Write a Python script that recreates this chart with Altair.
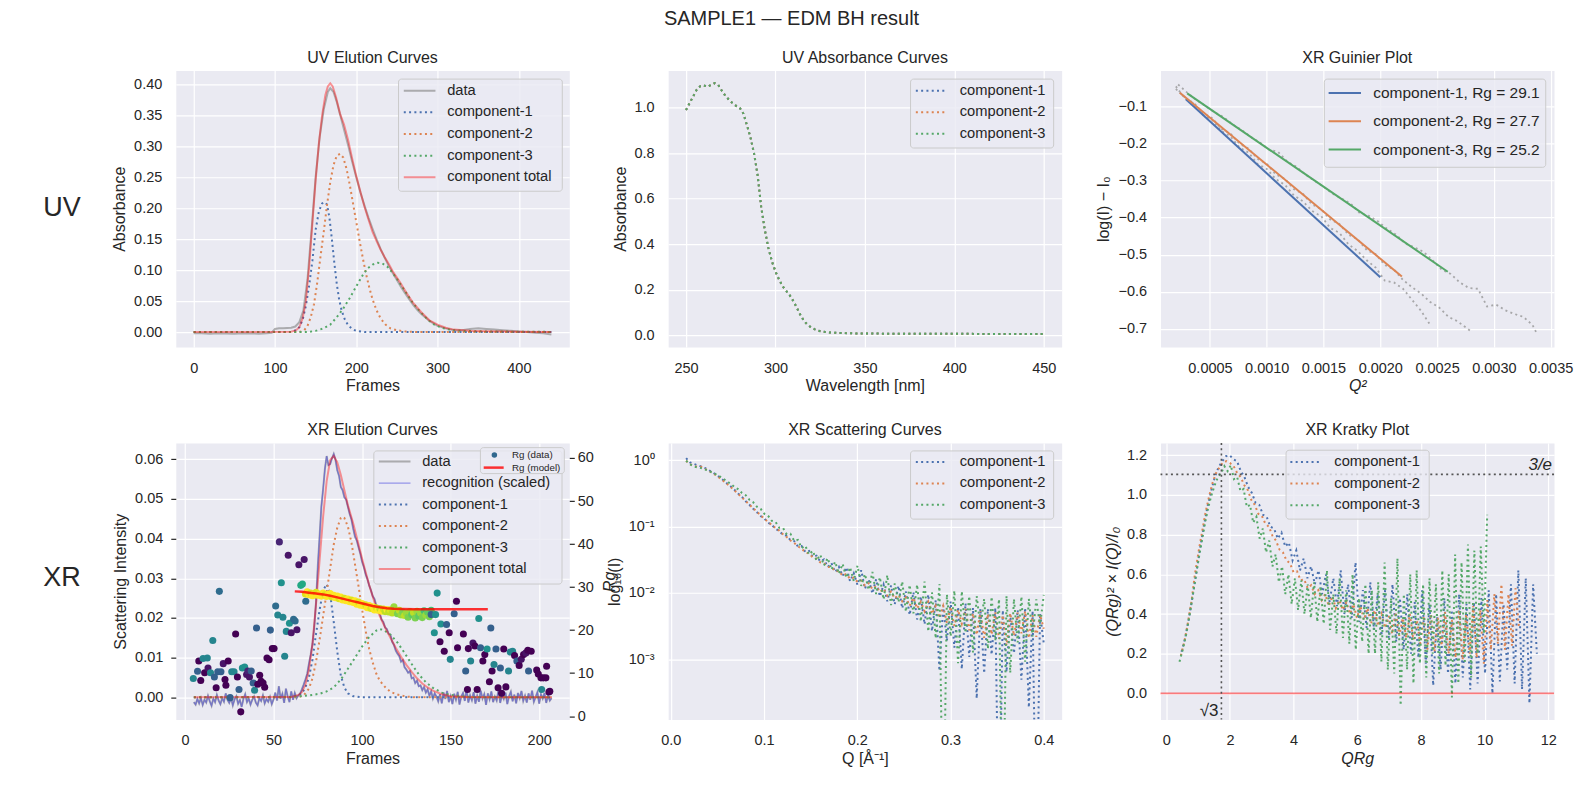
import altair as alt
import numpy as np
import pandas as pd

FONT = "Liberation Sans"
INK = "#262626"
BG = "#EAEAF2"
BLUE, ORANGE, GREEN = "#4C72B0", "#DD8452", "#55A868"
W, H = 394, 277
DOT = [2, 3.3]

# ---------------- UV elution curves (absorbance vs frame) ----------------
uv_data_frames = [0, 10, 20, 30, 40, 50, 60, 70, 80, 90,
                  96, 100, 105, 110, 115, 120, 125, 130, 135, 140, 145, 150, 155, 160, 165,
                  168, 172, 176, 180,
                  185, 190, 195, 200, 205, 210, 215, 220, 225, 230, 235, 240, 245, 250, 255, 260, 265, 270, 275, 280,
                  290, 300, 310, 320, 330, 340, 350, 360, 370, 380, 390, 400, 410, 420, 430, 440]
uv_data = [-0.002, -0.002, -0.0025, -0.002, -0.0022, -0.0025, -0.002, -0.0021, -0.0025, -0.002,
           -0.001, 0.005, 0.006, 0.006, 0.0065, 0.007, 0.009, 0.016, 0.035, 0.085, 0.165, 0.25, 0.315, 0.36, 0.388,
           0.394, 0.388, 0.372, 0.352,
           0.327, 0.302, 0.275, 0.25, 0.226, 0.205, 0.185, 0.167, 0.15, 0.134, 0.12, 0.107, 0.095, 0.084, 0.073,
           0.063, 0.053, 0.044, 0.036, 0.029,
           0.018, 0.01, 0.006, 0.003, 0.003, 0.005, 0.006, 0.005, 0.004, 0.003, 0.002, 0.001, 0.0, -0.001, -0.002, -0.004]

uv_c1_frames = [0, 120, 126, 130, 134, 138, 142, 146, 150, 154, 158, 161, 164, 167, 170, 173, 176, 179, 182, 186,
                190, 195, 200, 210, 440]
uv_c1 = [0, 0, 0.003, 0.008, 0.02, 0.042, 0.075, 0.115, 0.165, 0.195, 0.208, 0.21, 0.206, 0.185, 0.15, 0.112,
         0.078, 0.052, 0.035, 0.02, 0.011, 0.005, 0.002, 0.0, 0.0]

uv_c2_frames = [0, 130, 136, 140, 144, 148, 152, 156, 160, 164, 168, 172, 176, 180, 184, 188, 192, 196, 200, 204,
                208, 212, 216, 220, 225, 230, 236, 242, 250, 260, 275, 300, 440]
uv_c2 = [0, 0, 0.003, 0.01, 0.024, 0.045, 0.08, 0.122, 0.162, 0.205, 0.242, 0.27, 0.285, 0.288, 0.282, 0.264,
         0.238, 0.208, 0.178, 0.148, 0.12, 0.094, 0.072, 0.053, 0.035, 0.022, 0.012, 0.006, 0.003, 0.001, 0, 0, 0]

uv_c3_frames = [0, 140, 150, 160, 168, 176, 184, 192, 200, 208, 214, 220, 226, 232, 238, 244, 250, 256, 262, 268,
                274, 280, 288, 296, 305, 315, 330, 350, 380, 440]
uv_c3 = [0, 0, 0.002, 0.006, 0.012, 0.024, 0.038, 0.055, 0.074, 0.092, 0.103, 0.109, 0.112, 0.111, 0.106, 0.097,
         0.086, 0.074, 0.062, 0.05, 0.04, 0.031, 0.02, 0.012, 0.007, 0.004, 0.002, 0.0012, 0.0008, 0.0003]

uv_total_frames = [0, 120, 126, 130, 134, 138, 142, 146, 150, 154, 158, 162, 165, 168, 171, 175, 180, 185, 190, 195,
                   200, 205, 210, 215, 220, 225, 230, 235, 240, 245, 250, 255, 260, 270, 280, 290, 300, 310, 320,
                   340, 360, 400, 440]
uv_total = [0, 0.0005, 0.003, 0.008, 0.022, 0.05, 0.105, 0.175, 0.245, 0.305, 0.35, 0.383, 0.397, 0.402, 0.397,
            0.38, 0.353, 0.335, 0.31, 0.28, 0.252, 0.227, 0.203, 0.182, 0.162, 0.147, 0.133, 0.121, 0.11, 0.098,
            0.088, 0.078, 0.067, 0.047, 0.032, 0.019, 0.012, 0.007, 0.004, 0.002, 0.0012, 0.0007, 0.0003]

# ---------------- UV absorbance spectrum ----------------
uv_wavelength = [250, 252, 254, 256, 258, 260, 262, 264, 266, 268,
                 270, 272, 274, 276, 278, 280, 282, 284, 286, 288,
                 290, 292, 294, 296, 298, 300, 302, 304, 306, 308,
                 310, 312, 314, 316, 318, 320, 322, 324, 326, 328,
                 330, 335, 340, 345, 350,
                 360, 370, 380, 390, 400, 410, 420, 430, 440, 450]
uv_absorbance = [0.99, 1.02, 1.05, 1.08, 1.095, 1.098, 1.092, 1.1, 1.108, 1.1,
                 1.075, 1.052, 1.035, 1.02, 1.008, 1.0, 0.975, 0.925, 0.87, 0.8,
                 0.705, 0.565, 0.465, 0.385, 0.325, 0.28, 0.245, 0.215, 0.195, 0.175,
                 0.15, 0.12, 0.088, 0.062, 0.046, 0.034, 0.026, 0.02, 0.016, 0.014,
                 0.012, 0.01, 0.009, 0.008, 0.008,
                 0.007, 0.007, 0.006, 0.007, 0.006, 0.006, 0.005, 0.006, 0.005, 0.006]

# ---------------- Guinier plot ----------------
rg_fit = [29.1, 27.7, 25.2]
guinier_fit_q2 = [[0.000288, 0.0020], [0.000235, 0.00219], [0.0003, 0.002594]]
guinier_fit_y = [[-0.080, -0.561], [-0.062, -0.559], [-0.064, -0.546]]

guinier_q2_a = [0.00020, 0.00028, 0.00036, 0.00044, 0.00052, 0.00060, 0.00068, 0.00076, 0.00084, 0.00092,
                0.00100, 0.00108, 0.00116, 0.00124, 0.00132, 0.00140, 0.00148, 0.00156, 0.00164, 0.00172,
                0.00180, 0.00188, 0.00196, 0.00204, 0.00212, 0.00220, 0.00228, 0.00236, 0.00244]
guinier_y_a = [-0.052, -0.075, -0.093, -0.122, -0.136, -0.165, -0.180, -0.210, -0.224, -0.255,
               -0.268, -0.296, -0.311, -0.340, -0.356, -0.382, -0.396, -0.428, -0.441, -0.472,
               -0.490, -0.515, -0.535, -0.570, -0.575, -0.592, -0.622, -0.652, -0.690]
guinier_q2_b = [0.00020, 0.00028, 0.00036, 0.00044, 0.00052, 0.00060, 0.00068, 0.00076, 0.00084, 0.00092,
                0.00100, 0.00108, 0.00116, 0.00124, 0.00132, 0.00140, 0.00148, 0.00156, 0.00164, 0.00172,
                0.00180, 0.00188, 0.00196, 0.00204, 0.00212, 0.00220, 0.00228, 0.00236, 0.00244, 0.00252,
                0.00260, 0.00268, 0.00279]
guinier_y_b = [-0.045, -0.078, -0.090, -0.118, -0.131, -0.160, -0.172, -0.200, -0.213, -0.241,
               -0.254, -0.283, -0.295, -0.323, -0.336, -0.364, -0.377, -0.405, -0.417, -0.446,
               -0.458, -0.487, -0.499, -0.528, -0.540, -0.568, -0.588, -0.605, -0.628, -0.643,
               -0.668, -0.680, -0.705]
guinier_q2_c = [0.00022, 0.00030, 0.00038, 0.00046, 0.00054, 0.00062, 0.00070, 0.00078, 0.00086, 0.00094,
                0.00102, 0.00110, 0.00118, 0.00126, 0.00134, 0.00142, 0.00150, 0.00158, 0.00166, 0.00174,
                0.00182, 0.00190, 0.00198, 0.00206, 0.00214, 0.00222, 0.00230, 0.00238, 0.00246, 0.00254,
                0.00262, 0.00270, 0.00278, 0.00286, 0.00294, 0.00302, 0.00310, 0.00318, 0.00326, 0.00334,
                0.00338]
guinier_y_c = [-0.040, -0.062, -0.082, -0.098, -0.115, -0.128, -0.148, -0.163, -0.182, -0.197,
               -0.216, -0.222, -0.248, -0.262, -0.283, -0.300, -0.316, -0.335, -0.348, -0.362,
               -0.388, -0.395, -0.410, -0.430, -0.446, -0.470, -0.480, -0.492, -0.515, -0.540,
               -0.552, -0.575, -0.590, -0.592, -0.640, -0.635, -0.650, -0.660, -0.668, -0.690,
               -0.714]

# ---------------- XR elution curves ----------------
xr_data = [-0.0012, -0.0018, -0.0004, -0.0015, -0.0002, -0.0019, -0.0006, -0.0013, 0.0004, -0.0010,
           -0.0021, -0.0003, -0.0012, 0.0006, -0.0008, -0.0017, -0.0002, -0.0011, 0.0010, -0.0006,
           -0.0014, -0.0001, -0.0020, -0.0005, 0.0003, -0.0016, -0.0007, -0.0024, -0.0004, 0.0008,
           -0.0012, -0.0003, -0.0018, -0.0006, 0.0002, -0.0013, -0.0020, -0.0002, -0.0009, 0.0005,
           -0.0015, -0.0004, -0.0011, 0.0001, -0.0017, -0.0005, 0.0012, -0.0008, 0.0028, -0.0003,
           0.0009, -0.0014, 0.0022, 0.0002, -0.0012, 0.0015, -0.0006, 0.0011, -0.0002, 0.0005,
           0.0009, 0.0020, 0.0032, 0.0045, 0.0059, 0.0085, 0.0108, 0.0135, 0.0178, 0.0240,
           0.0330, 0.0405, 0.0480, 0.0525, 0.0575, 0.0608, 0.0585, 0.0588, 0.0602, 0.0613,
           0.0598, 0.0572, 0.0558, 0.0530, 0.0522, 0.0504, 0.0498, 0.0480, 0.0462, 0.0448,
           0.0425, 0.0405, 0.0395, 0.0378, 0.0362, 0.0342, 0.0328, 0.0310, 0.0298, 0.0282,
           0.0270, 0.0255, 0.0248, 0.0232, 0.0220, 0.0212, 0.0196, 0.0190, 0.0176, 0.0172,
           0.0160, 0.0158, 0.0140, 0.0132, 0.0118, 0.0110, 0.0104, 0.0090, 0.0094, 0.0076,
           0.0070, 0.0062, 0.0066, 0.0048, 0.0050, 0.0036, 0.0042, 0.0028, 0.0030, 0.0018,
           0.0026, 0.0012, 0.0020, 0.0004, 0.0015, -0.0003, 0.0010, 0.0002, -0.0010, 0.0008,
           -0.0015, 0.0012, -0.0004, 0.0016, -0.0012, 0.0003, -0.0017, 0.0009, -0.0006, 0.0014,
           -0.0018, 0.0002, 0.0011, -0.0009, 0.0019, -0.0013, 0.0005, -0.0007, 0.0013, -0.0016,
           0.0004, -0.0011, 0.0017, -0.0003, 0.0008, -0.0019, 0.0010, -0.0005, 0.0015, -0.0012,
           0.0002, -0.0008, 0.0018, -0.0014, 0.0006, -0.0004, 0.0012, -0.0017, 0.0003, 0.0014,
           -0.0010, 0.0007, -0.0015, 0.0011, -0.0002, 0.0016, -0.0009, 0.0004, -0.0013, 0.0010,
           -0.0006, 0.0017, -0.0011, 0.0001, 0.0013, -0.0016, 0.0008, -0.0003, 0.0011, -0.0014,
           0.0006, -0.0008, -0.0002]
xr_frames = list(range(5, 5 + len(xr_data)))

xr_c1_frames = [5, 60, 64, 66, 68, 70, 72, 74, 76, 78, 80, 82, 84, 86, 88, 90, 92, 95, 100, 207]
xr_c1 = [0, 0, 0.0005, 0.001, 0.0025, 0.005, 0.0095, 0.016, 0.022, 0.027, 0.0285, 0.026, 0.019, 0.0115, 0.0055,
         0.0025, 0.001, 0.0003, 0, 0]
xr_c2_frames = [5, 64, 67, 70, 72, 74, 76, 78, 80, 82, 84, 86, 88, 89, 90, 92, 94, 96, 98, 100,
                102, 104, 106, 108, 110, 113, 116, 120, 125, 130, 207]
xr_c2 = [0, 0, 0.0005, 0.0022, 0.0048, 0.009, 0.0145, 0.0205, 0.0265, 0.0325, 0.0385, 0.0428, 0.0452, 0.0455,
         0.0452, 0.043, 0.039, 0.0335, 0.028, 0.0222, 0.0168, 0.0122, 0.0088, 0.006, 0.0042, 0.0026, 0.0014,
         0.0007, 0.0002, 0, 0]
xr_c3_frames = [5, 60, 70, 76, 80, 84, 88, 92, 96, 100, 104, 108, 110, 112, 116, 120, 124, 128, 132, 136,
                140, 145, 150, 158, 165, 207]
xr_c3 = [0, 0.0001, 0.0005, 0.0009, 0.0015, 0.0025, 0.0045, 0.0072, 0.01, 0.0128, 0.0152, 0.0168, 0.0172,
         0.017, 0.0158, 0.0138, 0.0112, 0.0084, 0.0058, 0.0038, 0.0024, 0.0012, 0.0006, 0.0002, 0, 0]
xr_total_frames = [5, 60, 64, 66, 68, 70, 72, 74, 76, 78, 80, 82, 84, 86, 88, 90, 92, 95, 98, 101,
                   104, 107, 110, 113, 116, 119, 122, 125, 128, 131, 134, 137, 140, 145, 150, 160, 207]
xr_total = [0, 0.0001, 0.0006, 0.0013, 0.0032, 0.007, 0.0135, 0.0235, 0.0345, 0.0455, 0.0545, 0.0598, 0.0608,
            0.0592, 0.056, 0.0522, 0.0484, 0.0438, 0.0385, 0.0332, 0.0283, 0.024, 0.0205, 0.0176, 0.015, 0.0125,
            0.0102, 0.0082, 0.0064, 0.0048, 0.0035, 0.0025, 0.0017, 0.0008, 0.0003, 0.0001, 0]

# Rg per frame (right axis), with a quality score used for the viridis colouring
rg_frames = [4.7, 7.1, 7.8, 8.9, 10.2, 11.1, 12.6, 13.0, 14.4, 15.7,
             16.6, 17.6, 19.4, 18.5, 20.3, 21.6, 22.6, 23.1, 24.4, 25.5,
             26.4, 27.7, 28.6, 29.6, 30.5, 31.5, 32.4, 33.7, 34.8, 35.5,
             36.4, 37.4, 38.5, 39.3, 40.4, 41.1, 42.2, 43.0, 44.1, 45.0,
             46.3, 47.5, 48.2, 49.3, 50.3, 51.2, 52.4, 53.3, 54.4, 55.3,
             56.3, 57.2, 58.3, 59.0, 60.0, 61.3, 62.2, 63.2, 64.3, 65.4,
             66.3, 67.3, 68.2,
             68, 69, 70, 71, 72, 73, 74, 75, 76, 77,
             78, 79, 80, 81, 82, 83, 84, 85, 86, 87,
             88, 89, 90, 91, 92, 93, 94, 95, 96, 97,
             98, 99, 100, 101, 102, 103, 104, 105, 106, 107,
             108, 109, 110, 111, 112, 113, 114, 115, 116, 117,
             118, 119, 120, 121, 122, 123, 124, 125, 126, 127,
             128, 129, 130, 131, 132, 133, 134, 135, 136, 137,
             138, 139, 140,
             139.0, 140.8, 141.5, 142.4, 144.0, 144.5, 146.4, 147.7, 149.2, 149.8,
             152.0, 153.3, 153.9, 157.2, 158.5, 159.5, 160.0, 161.3, 162.6, 163.7,
             165.0, 165.9, 166.9, 168.2, 169.3, 170.6, 171.9, 172.7, 173.4, 174.5,
             175.6, 176.8, 178.1, 178.8, 180.0, 181.2, 182.7, 183.7, 185.0, 186.1,
             187.4, 188.7, 189.9, 191.2, 192.5, 193.6, 194.0, 195.5, 198.6, 199.5,
             201.0, 201.4, 202.3, 203.8, 204.2, 205.5, 206.0]
rg_values = [8.75, 10.45, 12.8, 8.3, 13.4, 10.1, 13.5, 11.2, 10.1, 17.6,
             9.1, 6.6, 29.0, 10.3, 10.3, 12.2, 8.5, 7.2, 12.8, 4.3,
             10.3, 10.3, 19.1, 9.1, 6.2, 1.0, 11.2, 11.4, 9.7, 10.5,
             9.1, 10.5, 7.7, 6.0, 20.5, 7.4, 9.5, 8.1, 7.7, 6.7,
             13.5, 13.1, 20.0, 15.7, 15.7, 25.6, 23.5, 40.5, 31.0, 23.0,
             13.9, 19.7, 37.4, 21.6, 19.4, 22.5, 22.1, 20.1, 35.2, 30.4,
             30.7, 36.4, 26.7,
             28.4, 28.9, 28.2, 28.6, 28.0, 28.5, 28.8, 28.1, 28.4, 27.9,
             28.6, 28.2, 27.8, 28.3, 28.5, 27.7, 28.1, 27.5, 27.9, 27.3,
             27.7, 27.0, 27.4, 26.8, 27.2, 26.6, 27.0, 26.4, 26.8, 26.0,
             26.5, 25.8, 26.2, 25.6, 25.9, 25.2, 25.7, 25.0, 25.4, 24.7,
             25.2, 24.6, 25.0, 24.4, 24.9, 24.3, 24.8, 24.2, 24.7, 24.0,
             25.4, 24.3, 23.8, 24.6, 23.5, 24.2, 23.4, 24.0, 23.0, 24.3,
             23.6, 24.1, 22.8, 24.4, 23.3, 24.0, 22.9, 24.5, 23.5, 24.2,
             23.1, 24.6, 23.7,
             23.6, 19.4, 23.6, 28.6, 17.3, 21.4, 15.1, 21.3, 19.4, 13.2,
             23.8, 26.7, 15.9, 19.1, 10.5, 6.2, 15.7, 12.8, 17.0, 16.3,
             6.2, 22.7, 15.9, 12.8, 14.3, 15.6, 8.0, 20.5, 10.5, 12.0,
             15.6, 6.6, 11.2, 5.3, 15.6, 6.8, 10.5, 14.9, 15.1, 14.1,
             12.8, 11.8, 13.2, 14.3, 14.7, 15.3, 10.5, 15.1, 10.7, 9.8,
             8.9, 6.2, 8.9, 8.9, 11.6, 5.6, 5.8]
rg_scores = [0.45, 0.3, 0, 0, 0.45, 0, 0.45, 0.05, 0.45, 0.45,
             0.3, 0, 0.35, 0.3, 0.3, 0.05, 0, 0, 0, 0.3,
             0.45, 0.45, 0, 0, 0.3, 0, 0.5, 0.5, 0.05, 0.1,
             0.05, 0.3, 0.3, 0.45, 0.3, 0, 0, 0, 0, 0,
             0, 0, 0.3, 0, 0, 0.35, 0.45, 0.1, 0.5, 0.45,
             0.45, 0.45, 0.05, 0.5, 0.05, 0.35, 0.35, 0.05, 0.05, 0.6,
             0.6, 0.05, 0.35,
             0.95, 1.0, 1.0, 0.95, 1.0, 1.0, 0.95, 1.0, 1.0, 1.0,
             1.0, 0.95, 1.0, 1.0, 1.0, 0.95, 1.0, 1.0, 1.0, 0.95,
             1.0, 1.0, 0.95, 1.0, 1.0, 1.0, 0.95, 1.0, 1.0, 1.0,
             0.95, 1.0, 1.0, 1.0, 0.95, 1.0, 1.0, 0.95, 1.0, 1.0,
             0.95, 1.0, 0.9, 1.0, 0.95, 0.9, 1.0, 0.9, 0.95, 0.9,
             0.85, 0.9, 0.8, 0.9, 0.85, 0.8, 0.9, 0.85, 0.8, 0.85,
             0.75, 0.9, 0.8, 0.85, 0.75, 0.85, 0.8, 0.7, 0.85, 0.75,
             0.8, 0.7, 0.75,
             0.3, 0.5, 0.5, 0.5, 0, 0.5, 0, 0.3, 0, 0.45,
             0.3, 0, 0, 0, 0.3, 0, 0, 0.45, 0.05, 0,
             0, 0.5, 0.3, 0, 0, 0.5, 0, 0.3, 0, 0.45,
             0.3, 0, 0.3, 0, 0, 0, 0.45, 0.45, 0.45, 0,
             0.3, 0, 0.05, 0, 0.05, 0, 0.3, 0, 0, 0,
             0, 0.45, 0, 0, 0, 0, 0]
rg_model_frames = [62, 66, 70, 74, 78, 82, 86, 90, 94, 98, 102, 106, 110, 114, 118, 122, 130, 140, 150, 160, 171]
rg_model = [29.0, 28.9, 28.7, 28.5, 28.3, 28.0, 27.6, 27.2, 26.8, 26.4, 26.0, 25.6, 25.3, 25.1, 24.95, 24.9,
            24.85, 24.85, 24.85, 24.85, 24.85]

# ---------------- scattering / Kratky ----------------
q_grid = np.linspace(0.0165, 0.4, 97)
i0_fit = [1.18, 1.075, 1.06]
kratky_c1 = [.21, .28, .38, .49, .61, .73, .84, .94, 1.02, 1.09,
             1.14, 1.17, 1.195, 1.20, 1.18, 1.17, 1.12, 1.09, 1.04, 1.01,
             .96, .95, .90, .89, .84, .83, .78, .81, .74, .76,
             .67, .72, .62, .68, .58, .64, .55, .62, .50, .60,
             .46, .58, .44, .62, .40, .55, .38, .66, .36, .52,
             .33, .56, .32, .50, .29, .52, .28, .55, .26, .48,
             .22, .50, .20, .46, .18, .52, .15, .45, .04, .40,
             .12, .48, .10, .42, .05, .50, .08, .45, .02, .46,
             .05, .48, .10, .52, .00, .50, .06, .45, .12, .55,
             .05, .62, .02, .58, -.05, .55, .20]
kratky_c2 = [.19, .26, .355, .46, .60, .71, .81, .91, .99, 1.06,
             1.11, 1.14, 1.165, 1.17, 1.16, 1.145, 1.11, 1.09, 1.05, 1.025,
             .975, .95, .905, .895, .855, .84, .795, .77, .725, .71,
             .67, .655, .61, .615, .57, .575, .53, .545, .50, .52,
             .47, .50, .44, .49, .43, .47, .42, .46, .40, .45,
             .38, .44, .37, .43, .35, .42, .34, .40, .33, .39,
             .30, .41, .29, .38, .28, .40, .27, .37, .25, .39,
             .22, .40, .21, .38, .24, .41, .20, .37, .18, .42,
             .17, .40, .20, .44, .18, .42, .15, .47, .22, .50,
             .25, .55, .22, .50, .24, .53, .33]
kratky_c3 = [.16, .22, .29, .38, .48, .58, .68, .77, .86, .94,
             1.0, 1.05, 1.09, 1.11, 1.145, 1.12, 1.15, 1.08, 1.09, 1.02,
             1.03, .94, .95, .86, .89, .78, .83, .71, .77, .64,
             .70, .56, .64, .50, .60, .45, .58, .42, .57, .40,
             .55, .38, .56, .36, .54, .35, .62, .32, .50, .30,
             .58, .28, .52, .25, .60, .22, .48, .26, .55, .20,
             .52, .20, .56, .16, .66, .12, .48, .10, .68, -.06,
             .50, .12, .60, .05, .62, .15, .55, .08, .58, .20,
             .55, .10, .62, .14, .60, -.02, .70, .05, .66, .15,
             .75, .08, .72, .20, .74, .30, .90]

THREE_E = 3 / np.e
SQRT3 = np.sqrt(3)

# ---------------- helpers ----------------
ONE = pd.DataFrame({"k": [0]})


def table(xs, ys, yname="y", **extra):
    if len(xs) != len(ys):
        raise ValueError(f"length mismatch: {len(xs)} vs {len(ys)}")
    d = {"x": np.asarray(xs, dtype=float), yname: np.asarray(ys, dtype=float)}
    d.update(extra)
    return pd.DataFrame(d)


def curve(df, xe, ye, clip=False, **style):
    return alt.Chart(df).mark_line(clip=clip, **style).encode(x=xe, y=ye)


def pin(mark_chart, **pos):
    return mark_chart.encode(**{k: alt.value(v) for k, v in pos.items()})


def legend(box, rows, sym, label_x, entries, size=14.7):
    x0, x1, y0, y1 = box
    out = [pin(alt.Chart(ONE).mark_rect(fill=BG, fillOpacity=0.8, stroke="#CBCBCB", strokeWidth=1,
                                        cornerRadius=3), x=x0, x2=x1, y=y0, y2=y1)]
    for (label, style), ry in zip(entries, rows):
        out.append(pin(alt.Chart(ONE).mark_rule(**style), x=sym[0], x2=sym[1], y=ry))
        out.append(pin(alt.Chart(ONE).mark_text(text=label, align="left", baseline="middle", font=FONT,
                                                fontSize=size, color=INK), x=label_x, y=ry))
    return out


def text_at(txt, x, y, size, **kw):
    return pin(alt.Chart(ONE).mark_text(text=txt, font=FONT, fontSize=size, color=INK, **kw), x=x, y=y)


def heading(txt):
    # panel title centred over the plot area
    return text_at(txt, W / 2, -7.5, 16, align="center", baseline="alphabetic")


def lin(domain):
    return alt.Scale(domain=domain, nice=False, zero=False)


S_DATA = dict(color="#808080", opacity=0.6, strokeWidth=2)
S_C1 = dict(color=BLUE, strokeDash=DOT, strokeWidth=2)
S_C2 = dict(color=ORANGE, strokeDash=DOT, strokeWidth=2)
S_C3 = dict(color=GREEN, strokeDash=DOT, strokeWidth=2)
S_TOTAL = dict(color="#FF0000", opacity=0.4, strokeWidth=2)
S_RECOG = dict(color="#4040E0", opacity=0.5, strokeWidth=1.3)
S_FIT1 = dict(color=BLUE, strokeWidth=2)
S_FIT2 = dict(color=ORANGE, strokeWidth=2)
S_FIT3 = dict(color=GREEN, strokeWidth=2)
S_GRAY = dict(color="#909090", opacity=0.75, strokeDash=DOT, strokeWidth=1.8)

MINUS = "replace(format(datum.value, '.1f'), '-', '\u2212')"

# ---------------- panel 1: UV elution ----------------
x1 = alt.X("x:Q", scale=lin([-22, 462]), axis=alt.Axis(title="Frames", values=[0, 100, 200, 300, 400], format="d"))
y1 = alt.Y("y:Q", scale=lin([-0.0242, 0.4228]),
           axis=alt.Axis(title="Absorbance", values=[0, 0.05, 0.1, 0.15, 0.2, 0.25, 0.3, 0.35, 0.4], format=".2f"))
p1_layers = [
    curve(table(uv_data_frames, uv_data), x1, y1, **S_DATA),
    curve(table(uv_c1_frames, uv_c1), x1, y1, **S_C1),
    curve(table(uv_c2_frames, uv_c2), x1, y1, **S_C2),
    curve(table(uv_c3_frames, uv_c3), x1, y1, **S_C3),
    curve(table(uv_total_frames, uv_total), x1, y1, **S_TOTAL),
]
p1_layers += legend((223, 387, 8.7, 121), [20.3, 42, 63.7, 85.4, 107.1], (228.3, 260), 271.7,
                    [("data", S_DATA), ("component-1", S_C1), ("component-2", S_C2),
                     ("component-3", S_C3), ("component total", S_TOTAL)])
p1_layers.append(text_at("UV", -114, 138, 27, align="center", baseline="middle"))
p1_layers.append(heading("UV Elution Curves"))
p1_layers.append(pin(alt.Chart(ONE).mark_rect(opacity=0), x=-175, x2=-174, y=-69, y2=-68))
p1 = alt.layer(*p1_layers).properties(width=W, height=H)

# ---------------- panel 2: UV absorbance ----------------
x2 = alt.X("x:Q", scale=lin([240, 460]),
           axis=alt.Axis(title="Wavelength [nm]", values=[250, 300, 350, 400, 450], format="d"))
y2 = alt.Y("y:Q", scale=lin([-0.052, 1.164]),
           axis=alt.Axis(title="Absorbance", values=[0, 0.2, 0.4, 0.6, 0.8, 1.0], format=".1f"))
spec = table(uv_wavelength, uv_absorbance)
p2_layers = [curve(spec, x2, y2, **S_C1), curve(spec, x2, y2, **S_C2), curve(spec, x2, y2, **S_C3)]
p2_layers += legend((242.7, 386, 8.7, 77.7), [20.3, 42, 63.3], (248, 278), 292,
                    [("component-1", S_C1), ("component-2", S_C2), ("component-3", S_C3)])
p2_layers.append(text_at("SAMPLE1 \u2014 EDM BH result", 791.5 - 668, 18 - 69, 20,
                         align="center", baseline="middle"))
p2_layers.append(heading("UV Absorbance Curves"))
p2 = alt.layer(*p2_layers).properties(width=W, height=H)

# ---------------- panel 3: Guinier ----------------
x3 = alt.X("x:Q", scale=lin([0.000065, 0.00353]),
           axis=alt.Axis(title="Q\u00b2", titleFontStyle="italic",
                         values=[0.0005, 0.001, 0.0015, 0.002, 0.0025, 0.003, 0.0035], format=".4f"))
y3 = alt.Y("y:Q", scale=lin([-0.7496, -0.0019]),
           axis=alt.Axis(title="log(I) \u2212 I\u2080", values=[-0.7, -0.6, -0.5, -0.4, -0.3, -0.2, -0.1],
                         labelExpr=MINUS))
p3_layers = [
    curve(table(guinier_q2_a, guinier_y_a), x3, y3, **S_GRAY),
    curve(table(guinier_q2_b, guinier_y_b), x3, y3, **S_GRAY),
    curve(table(guinier_q2_c, guinier_y_c), x3, y3, **S_GRAY),
]
fit_styles = [S_FIT1, S_FIT2, S_FIT3]
for k in range(3):
    p3_layers.append(curve(table(guinier_fit_q2[k], guinier_fit_y[k]), x3, y3, **fit_styles[k]))
p3_layers += legend((164, 385.7, 8.7, 97), [22.7, 51, 79.3], (168.3, 200.7), 213,
                    [(f"component-{k + 1}, Rg = {rg_fit[k]:.1f}", fit_styles[k]) for k in range(3)], size=15.5)
p3_layers.append(heading("XR Guinier Plot"))
p3 = alt.layer(*p3_layers).properties(width=W, height=H)

# ---------------- panel 4: XR elution with Rg ----------------
x4 = alt.X("x:Q", scale=lin([-5.2, 217]), axis=alt.Axis(title="Frames", values=[0, 50, 100, 150, 200], format="d"))
y4 = alt.Y("y:Q", scale=lin([-0.0056, 0.0641]),
           axis=alt.Axis(title="Scattering Intensity", values=[0, 0.01, 0.02, 0.03, 0.04, 0.05, 0.06],
                         format=".2f", ticks=True, tickSize=5, tickColor=INK, tickWidth=1.2, labelPadding=8))
rg_axis = alt.Axis(orient="right", title="Rg", titleFontStyle="italic", values=[0, 10, 20, 30, 40, 50, 60],
                   format="d", grid=False, ticks=True, tickSize=5, tickColor=INK, tickWidth=1.2, labelPadding=3,
                   titleAngle=270, titleBaseline="top", titlePadding=8)
y4r = alt.Y("rg:Q", scale=lin([-0.8, 63.5]), axis=rg_axis)

left_layers = [
    curve(table(xr_frames, xr_data), x4, y4, **S_DATA),
    curve(table(xr_frames, xr_data), x4, y4, **S_RECOG),
    curve(table(xr_c1_frames, xr_c1), x4, y4, **S_C1),
    curve(table(xr_c2_frames, xr_c2), x4, y4, **S_C2),
    curve(table(xr_c3_frames, xr_c3), x4, y4, **S_C3),
    curve(table(xr_total_frames, xr_total), x4, y4, **S_TOTAL),
]
left_layers += legend((198.3, 386.7, 8, 141.3), [18.7, 40.2, 61.7, 83.2, 104.7, 126.2], (203.3, 235), 246.7,
                      [("data", S_DATA), ("recognition (scaled)", S_RECOG), ("component-1", S_C1),
                       ("component-2", S_C2), ("component-3", S_C3), ("component total", S_TOTAL)])
left_layers.append(text_at("XR", -114, 135, 27, align="center", baseline="middle"))
left_layers.append(heading("XR Elution Curves"))

rg_points = table(rg_frames, rg_values, yname="rg", score=rg_scores)
right_layers = [
    alt.Chart(rg_points).mark_circle(size=50, opacity=1).encode(
        x=x4, y=y4r, color=alt.Color("score:Q", scale=alt.Scale(scheme="viridis", domain=[0, 1]), legend=None)),
    alt.Chart(table(rg_model_frames, rg_model, yname="rg")).mark_line(color="#FF0000", opacity=0.8,
                                                                        strokeWidth=2.5).encode(x=x4, y=y4r),
    pin(alt.Chart(ONE).mark_rect(fill=BG, fillOpacity=0.8, stroke="#CBCBCB", strokeWidth=1, cornerRadius=3),
        x=305, x2=389, y=4.7, y2=30.7),
    pin(alt.Chart(ONE).mark_circle(size=30, color="#31688E", opacity=1), x=319, y=12),
    pin(alt.Chart(ONE).mark_rule(color="#FF0000", opacity=0.8, strokeWidth=2.5), x=308.3, x2=328.3, y=24.7),
    text_at("Rg (data)", 336.7, 12.5, 9.8, align="left", baseline="middle"),
    text_at("Rg (model)", 336.7, 25.5, 9.8, align="left", baseline="middle"),
]
p4 = alt.layer(alt.layer(*left_layers), alt.layer(*right_layers)).resolve_scale(
    y="independent", color="independent").properties(width=W, height=H)

# ---------------- panel 5: scattering curves ----------------
x5 = alt.X("x:Q", scale=lin([-0.0028, 0.4192]),
           axis=alt.Axis(title="Q [\u00c5\u207b\u00b9]", values=[0, 0.1, 0.2, 0.3, 0.4], format=".1f"))
y5 = alt.Y("y:Q", scale=alt.Scale(type="log", domain=[1.24e-4, 1.82], nice=False),
           axis=alt.Axis(title="log\u2081\u2080(I)", values=[0.001, 0.01, 0.1, 1],
                         labelExpr="datum.value > 0.5 ? '10\u2070' : datum.value > 0.05 ? '10\u207b\u00b9' : "
                                   "datum.value > 0.005 ? '10\u207b\u00b2' : '10\u207b\u00b3'"))
x6 = alt.X("x:Q", scale=lin([-0.18, 12.18]),
           axis=alt.Axis(title="QRg", titleFontStyle="italic", values=[0, 2, 4, 6, 8, 10, 12], format="d"))
y6 = alt.Y("y:Q", scale=lin([-0.132, 1.262]),
           axis=alt.Axis(title="(QRg)\u00b2 \u00d7 I(Q)/I\u2080", titleFontStyle="italic",
                         values=[0, 0.2, 0.4, 0.6, 0.8, 1.0, 1.2], format=".1f"))

comp_styles = [S_C1, S_C2, S_C3]
kratky = [kratky_c1, kratky_c2, kratky_c3]
p5_layers, p6_layers = [], []
for k in range(3):
    ky = np.asarray(kratky[k], dtype=float)
    qrg = q_grid * rg_fit[k]
    intensity = i0_fit[k] * ky / qrg ** 2
    # non-positive intensities fall below the log axis and are clipped away
    shown = np.where(intensity > 0, intensity, 1e-6)
    p5_layers.append(curve(table(q_grid, shown), x5, y5, clip=True, **comp_styles[k]))
    p6_layers.append(curve(table(qrg, ky), x6, y6, **comp_styles[k]))

p5_layers += legend((242.7, 386, 8, 76.3), [19, 40.5, 62], (248, 278), 292,
                    [("component-1", S_C1), ("component-2", S_C2), ("component-3", S_C3)])
p5_layers.append(heading("XR Scattering Curves"))
p5 = alt.layer(*p5_layers).properties(width=W, height=H)

# ---------------- panel 6: Kratky ----------------
ref_dash = dict(color="#555555", strokeDash=[2, 3.3], strokeWidth=1.6)
p6_layers += [
    alt.Chart(pd.DataFrame({"y": [0.0]})).mark_rule(color="#FF0000", opacity=0.5, strokeWidth=1.6).encode(y=y6),
    alt.Chart(pd.DataFrame({"y": [THREE_E]})).mark_rule(**ref_dash).encode(y=y6),
    alt.Chart(pd.DataFrame({"x": [SQRT3]})).mark_rule(**ref_dash).encode(x=x6),
    alt.Chart(pd.DataFrame({"y": [THREE_E]})).mark_text(
        text="3/e", align="right", baseline="alphabetic", dy=-4, font=FONT, fontSize=17, fontStyle="italic",
        color=INK).encode(x=alt.value(W - 2), y=y6),
    alt.Chart(pd.DataFrame({"x": [SQRT3]})).mark_text(
        text="\u221a3", align="right", baseline="alphabetic", dx=-3, dy=-4, font=FONT, fontSize=17,
        color=INK).encode(x=x6, y=alt.value(H)),
]
p6_layers += legend((125.7, 269, 7.3, 76.3), [19, 40.7, 62.3], (130, 160.7), 174,
                    [("component-1", S_C1), ("component-2", S_C2), ("component-3", S_C3)])
p6_layers.append(heading("XR Kratky Plot"))
p6_layers.append(pin(alt.Chart(ONE).mark_rect(opacity=0), x=W + 27, x2=W + 28, y=H + 66, y2=H + 67))
p6 = alt.layer(*p6_layers).properties(width=W, height=H)

chart = alt.concat(
    p1, p2, p3, p4, p5, p6, columns=3, spacing={"row": 96, "column": 99}, bounds="flush"
).resolve_scale(
    x="independent", y="independent", color="independent"
).properties(
    padding=0, background="white"
).configure_view(
    fill=BG, stroke="transparent"
).configure_axis(
    domain=False, ticks=False, tickSize=0, gridColor="white", gridWidth=1.2,
    labelFont=FONT, labelFontSize=14.5, labelColor=INK, labelPadding=14,
    titleFont=FONT, titleFontSize=16, titleFontWeight="normal", titleColor=INK
).configure_axisX(
    titlePadding=3
).configure_axisY(
    titlePadding=6
)

chart.save("out.html", embed_options={"renderer": "svg", "actions": False})
